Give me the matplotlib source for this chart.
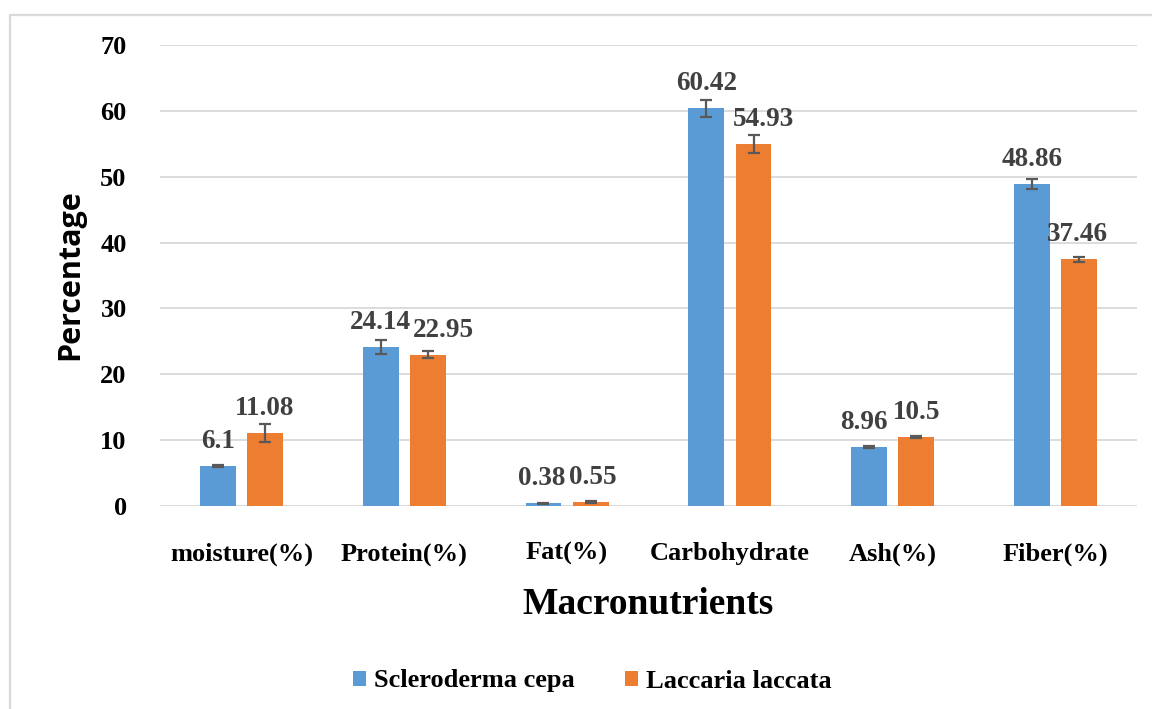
import matplotlib
matplotlib.use("Agg")
import matplotlib.pyplot as plt
from matplotlib.lines import Line2D
from matplotlib.patches import Patch
import numpy as np

categories = ["moisture(%)", "Protein(%)", "Fat(%)", "Carbohydrate", "Ash(%)", "Fiber(%)"]
series_names = ["Scleroderma cepa", "Laccaria laccata"]
scleroderma = [6.1, 24.14, 0.38, 60.42, 8.96, 48.86]
laccaria = [11.08, 22.95, 0.55, 54.93, 10.5, 37.46]
scleroderma_err = [0.2, 1.0, 0.1, 1.3, 0.2, 0.75]
laccaria_err = [1.4, 0.55, 0.15, 1.35, 0.15, 0.35]
y_ticks = [0, 10, 20, 30, 40, 50, 60, 70]

BLUE = "#5B9BD5"
ORANGE = "#ED7D31"
GRID = "#D9D9D9"
LABEL_GRAY = "#404040"
SERIF = "Liberation Serif"

# horizontal nudges (points) for value labels that would otherwise collide
label_nudge = {(0, 2): -1.5, (0, 4): -4, (1, 1): 11, (1, 2): 1.5, (1, 3): 7, (1, 5): -1.5}

W, H = 1152, 709
fig = plt.figure(figsize=(W / 100, H / 100), dpi=100)
ax = fig.add_axes([160 / W, 1 - 506 / H, 977 / W, 461 / H])

x = np.arange(len(categories))
bw = 0.22
off = 0.145
err_kw = dict(ecolor="#595959", elinewidth=1.6, capsize=4, capthick=1.6)
b1 = ax.bar(x - off, scleroderma, bw, color=BLUE, yerr=scleroderma_err, error_kw=err_kw, zorder=3)
b2 = ax.bar(x + off, laccaria, bw, color=ORANGE, yerr=laccaria_err, error_kw=err_kw, zorder=3)

for si, (bars, vals) in enumerate(((b1, scleroderma), (b2, laccaria))):
    for ci, (rect, v) in enumerate(zip(bars, vals)):
        dx = label_nudge.get((si, ci), 0)
        ax.annotate(f"{v:g}", (rect.get_x() + rect.get_width() / 2, v),
                    xytext=(dx, 13), textcoords="offset points",
                    ha="center", va="baseline", fontsize=19.5, fontweight="bold",
                    family=SERIF, color=LABEL_GRAY, zorder=5)

ax.set_ylim(0, 70)
ax.set_xlim(-0.5, len(categories) - 0.5)
ax.set_yticks(y_ticks)
ax.set_xticks(x)
ax.set_xticklabels(categories)
ax.yaxis.grid(True, color=GRID, linewidth=1.3, zorder=0)
ax.set_axisbelow(True)
for s in ax.spines.values():
    s.set_visible(False)
ax.tick_params(axis="both", length=0)
ax.tick_params(axis="y", pad=24)
ax.tick_params(axis="x", pad=26)
for lbl in ax.get_xticklabels() + ax.get_yticklabels():
    lbl.set_fontfamily(SERIF)
    lbl.set_fontweight("bold")
    lbl.set_fontsize(19)
    lbl.set_color("black")

fig.text(70 / W, 1 - 275 / H, "Percentage", rotation=90, ha="center", va="center",
         fontsize=22, fontweight="bold", family="Open Sans")
fig.text(648 / W, 1 - 604 / H, "Macronutrients", ha="center", va="center",
         fontsize=27, fontweight="bold", family=SERIF)

handles = [Patch(facecolor=BLUE), Patch(facecolor=ORANGE)]
fig.legend(handles, series_names, loc="center", bbox_to_anchor=(592 / W, 1 - 681 / H),
           ncol=2, frameon=False, handlelength=0.5, handleheight=0.5, handletextpad=0.3,
           columnspacing=1.9, prop=dict(family=SERIF, weight="bold", size=19))

# outer chart-area frame
fig.add_artist(Line2D([10 / W, 10 / W, 1.0], [0.0, 1 - 15 / H, 1 - 15 / H],
                      transform=fig.transFigure, color=GRID, linewidth=1.6))

fig.savefig("out.png", dpi=100)
